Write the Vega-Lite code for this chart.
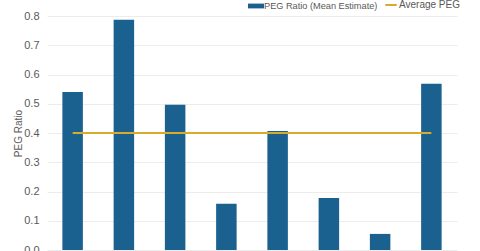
{
  "$schema": "https://vega.github.io/schema/vega-lite/v6.json",
  "autosize": "none",
  "width": 410,
  "height": 234,
  "padding": {"left": 47, "top": 16, "right": 23, "bottom": 1},
  "background": "white",
  "config": {
    "view": {"stroke": null},
    "font": "Liberation Sans",
    "axis": {"labelColor": "#595959", "titleColor": "#595959", "labelFont": "Liberation Sans", "titleFont": "Liberation Sans"},
    "legend": {"labelFont": "Liberation Sans", "labelColor": "#595959", "padding": 0}
  },
  "data": {
    "values": [
      {"company": "A", "peg": 0.54, "avg": 0.4},
      {"company": "B", "peg": 0.787, "avg": 0.4},
      {"company": "C", "peg": 0.497, "avg": 0.4},
      {"company": "D", "peg": 0.158, "avg": 0.4},
      {"company": "E", "peg": 0.407, "avg": 0.4},
      {"company": "F", "peg": 0.178, "avg": 0.4},
      {"company": "G", "peg": 0.055, "avg": 0.4},
      {"company": "H", "peg": 0.568, "avg": 0.4}
    ]
  },
  "encoding": {
    "x": {
      "field": "company",
      "type": "nominal",
      "sort": null,
      "scale": {"paddingInner": 0.6, "paddingOuter": 0.3},
      "axis": null
    }
  },
  "layer": [
    {
      "mark": {"type": "bar", "color": "#1b6190"},
      "encoding": {
        "y": {
          "field": "peg",
          "type": "quantitative",
          "scale": {"domain": [0, 0.8], "nice": false},
          "axis": {
            "title": "PEG Ratio",
            "titleFontSize": 10,
            "titleFontWeight": "normal",
            "titlePadding": 0,
            "labelFontSize": 11,
            "labelPadding": 8,
            "labelOverlap": false,
            "labelBound": false,
            "format": ".1f",
            "tickCount": 12,
            "values": [0, 0.1, 0.2, 0.3, 0.4, 0.5, 0.6, 0.7, 0.8],
            "ticks": false,
            "domain": false,
            "gridColor": "#ececec",
            "gridWidth": 1
          }
        },
        "fill": {
          "datum": "PEG Ratio (Mean Estimate)",
          "type": "nominal",
          "scale": {"range": ["#1b6190"]},
          "legend": {
            "orient": "none",
            "legendX": 201,
            "legendY": -18,
            "title": null,
            "labelFontSize": 9.2,
            "labelOffset": 0,
            "symbolType": "M-1,-0.3H1V0.3H-1Z",
            "symbolSize": 256,
            "symbolStrokeWidth": 0
          }
        }
      }
    },
    {
      "mark": {"type": "line", "color": "#d9ab2b", "strokeWidth": 2},
      "encoding": {
        "y": {"field": "avg", "type": "quantitative"},
        "stroke": {
          "datum": "Average PEG",
          "type": "nominal",
          "scale": {"range": ["#d9ab2b"]},
          "legend": {
            "orient": "none",
            "legendX": 337,
            "legendY": -18,
            "title": null,
            "labelFontSize": 10,
            "labelOffset": 1,
            "symbolType": "stroke",
            "symbolSize": 130,
            "symbolStrokeWidth": 2
          }
        }
      }
    }
  ]
}
